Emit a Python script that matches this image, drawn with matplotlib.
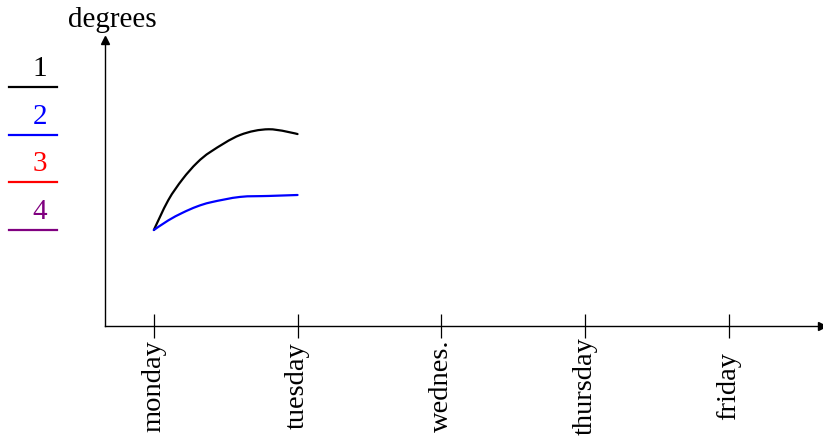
import matplotlib
matplotlib.use("Agg")
import matplotlib.pyplot as plt
from matplotlib.path import Path
from matplotlib.patches import PathPatch
from matplotlib.lines import Line2D
import numpy as np

plt.rcParams['font.family'] = ['Liberation Serif', 'DejaVu Serif']

days = ["monday", "tuesday", "wednes.", "thursday", "friday"]
# positions along the day axis (monday = 0, tuesday = 1)
s_x = [0.0, 0.1, 0.2, 0.3, 0.4, 0.6, 0.8, 1.0]
s1_y = [10.0, 13.1, 15.3, 17.0, 18.2, 19.9, 20.5, 20.0]
s2_y = [10.0, 11.0, 11.8, 12.45, 12.9, 13.45, 13.55, 13.65]
legend_labels = ["1", "2", "3", "4"]
colors = ["black", "#0000ff", "#ff0000", "#800080"]

W, H = 823, 436
fig = plt.figure(figsize=(W / 100, H / 100), dpi=100)
ax = fig.add_axes([105 / W, (H - 326) / H, (822 - 105) / W, (326 - 40) / H])


def smooth_path(xs, ys):
    pts = np.column_stack([xs, ys])
    verts = [pts[0]]
    codes = [Path.MOVETO]
    n = len(pts)
    for i in range(n - 1):
        p0 = pts[i - 1] if i > 0 else pts[i]
        p1 = pts[i]
        p2 = pts[i + 1]
        p3 = pts[i + 2] if i + 2 < n else pts[i + 1]
        c1 = p1 + (p2 - p0) / 6.0 if i > 0 else p1
        c2 = p2 - (p3 - p1) / 6.0 if i + 2 < n else p2
        verts += [c1, c2, p2]
        codes += [Path.CURVE4] * 3
    return Path(verts, codes)


for ys, c in [(s1_y, colors[0]), (s2_y, colors[1])]:
    ax.add_patch(PathPatch(smooth_path(s_x, ys), facecolor="none",
                           edgecolor=c, lw=1.6, capstyle="round", joinstyle="round"))

ax.set_xlim(-0.34, 4.65)
ax.set_ylim(0, 29.8)
ax.set_xticks(range(len(days)))
ax.set_xticklabels(days, rotation=90, fontsize=20.5, va="center", ha="center")
ax.tick_params(axis="x", direction="inout", length=17, width=0.9, pad=34.5)
ax.set_yticks([])
for s in ["top", "right"]:
    ax.spines[s].set_visible(False)
for s in ["left", "bottom"]:
    ax.spines[s].set_linewidth(1.0)
ax.plot([1], [0], marker=">", color="black", markersize=6, transform=ax.transAxes, clip_on=False)
ax.plot([0], [1], marker="^", color="black", markersize=6, transform=ax.transAxes, clip_on=False)

fig.text(112 / W, 1 - 20 / H, "degrees", fontsize=21, ha="center", va="center")

for i, (lab, c) in enumerate(zip(legend_labels, colors)):
    ly = 87 + i * 47.7
    fig.add_artist(Line2D([9 / W, 57 / W], [1 - ly / H, 1 - ly / H], color=c, lw=1.6,
                          transform=fig.transFigure))
    fig.text(40 / W, 1 - (ly - 5) / H, lab, color=c, fontsize=21, ha="center", va="bottom")

fig.savefig("out.png", dpi=100)
